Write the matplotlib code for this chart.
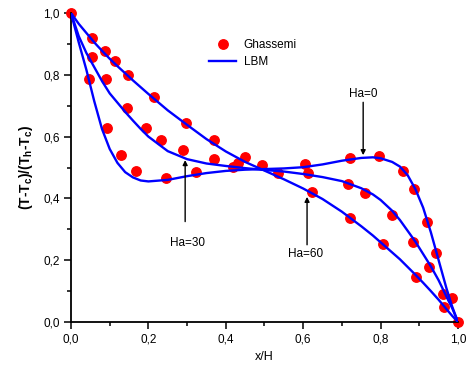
import matplotlib.pyplot as plt
from matplotlib.ticker import MultipleLocator, FuncFormatter

plt.rcParams['font.family'] = ['Liberation Sans', 'DejaVu Sans']

# LBM temperature profiles
x_lbm = [0, 0.02, 0.04, 0.06, 0.08, 0.1, 0.12, 0.14, 0.16, 0.18, 0.2, 0.25, 0.3, 0.35, 0.4,
         0.45, 0.5, 0.55, 0.6, 0.65, 0.7, 0.75, 0.78, 0.8, 0.83, 0.85, 0.87, 0.89, 0.91,
         0.93, 0.95, 0.97, 0.985, 1.0]
ha0_lbm = [1.0, 0.905, 0.815, 0.715, 0.625, 0.56, 0.515, 0.485, 0.468, 0.458, 0.455, 0.46,
           0.472, 0.482, 0.489, 0.493, 0.495, 0.497, 0.501, 0.51, 0.522, 0.531, 0.533, 0.530,
           0.518, 0.503, 0.475, 0.43, 0.37, 0.29, 0.20, 0.11, 0.05, 0.0]
ha30_lbm = [1.0, 0.925, 0.87, 0.825, 0.78, 0.74, 0.71, 0.68, 0.652, 0.625, 0.60, 0.553,
            0.527, 0.513, 0.505, 0.498, 0.492, 0.487, 0.479, 0.469, 0.456, 0.433, 0.413,
            0.395, 0.36, 0.33, 0.295, 0.26, 0.22, 0.18, 0.135, 0.083, 0.045, 0.0]
ha60_lbm = [1.0, 0.965, 0.935, 0.905, 0.878, 0.852, 0.828, 0.805, 0.782, 0.76, 0.738, 0.685,
            0.638, 0.592, 0.552, 0.518, 0.49, 0.462, 0.432, 0.398, 0.357, 0.31, 0.28, 0.258,
            0.225, 0.203, 0.178, 0.153, 0.127, 0.10, 0.072, 0.042, 0.02, 0.0]

# Ghassemi reference points
ha0_x = [0.047, 0.092, 0.128, 0.167, 0.245, 0.322, 0.419, 0.605, 0.721, 0.797, 0.859, 0.886,
         0.919, 0.943, 0.985]
ha0_y = [0.785, 0.627, 0.540, 0.489, 0.465, 0.485, 0.501, 0.510, 0.530, 0.537, 0.490, 0.429,
         0.325, 0.224, 0.077]
ha30_x = [0.055, 0.090, 0.144, 0.194, 0.233, 0.289, 0.370, 0.431, 0.536, 0.613, 0.717, 0.760,
          0.829, 0.883, 0.926, 0.962]
ha30_y = [0.859, 0.785, 0.692, 0.627, 0.589, 0.557, 0.526, 0.513, 0.481, 0.483, 0.447, 0.416,
          0.346, 0.260, 0.177, 0.091]
ha60_x = [0.0, 0.055, 0.088, 0.115, 0.148, 0.215, 0.296, 0.370, 0.450, 0.493, 0.622, 0.721,
          0.805, 0.891, 0.964, 1.0]
ha60_y = [1.0, 0.918, 0.878, 0.844, 0.798, 0.729, 0.645, 0.589, 0.535, 0.507, 0.422, 0.336,
          0.252, 0.145, 0.048, 0.0]

fig = plt.figure(figsize=(4.68, 3.78), dpi=100)
ax = fig.add_axes([0.1517, 0.1481, 0.8269, 0.8175])

dot = dict(ls='none', marker='o', ms=6.8, color='#ff0000', clip_on=False, zorder=2)
ax.plot(ha0_x, ha0_y, label='Ghassemi', **dot)
ax.plot(ha30_x, ha30_y, **dot)
ax.plot(ha60_x, ha60_y, **dot)

line = dict(color='#0000ff', lw=1.7, zorder=3)
ax.plot(x_lbm, ha0_lbm, label='LBM', **line)
ax.plot(x_lbm, ha30_lbm, **line)
ax.plot(x_lbm, ha60_lbm, **line)

arrow = dict(arrowstyle='-|>', color='k', lw=1.0, mutation_scale=7, shrinkA=0, shrinkB=0)
ax.annotate('Ha=0', xy=(0.755, 0.54), xytext=(0.755, 0.72), ha='center', va='bottom',
            fontsize=8.5, arrowprops=arrow)
ax.annotate('', xy=(0.295, 0.524), xytext=(0.295, 0.325), arrowprops=arrow)
ax.text(0.30, 0.256, 'Ha=30', ha='center', va='center', fontsize=8.5)
ax.annotate('', xy=(0.61, 0.405), xytext=(0.61, 0.25), arrowprops=arrow)
ax.text(0.605, 0.22, 'Ha=60', ha='center', va='center', fontsize=8.5)

ax.set_xlim(0, 1)
ax.set_ylim(0, 1)
ax.xaxis.set_major_locator(MultipleLocator(0.2))
ax.xaxis.set_minor_locator(MultipleLocator(0.1))
ax.yaxis.set_major_locator(MultipleLocator(0.2))
ax.yaxis.set_minor_locator(MultipleLocator(0.1))
comma = FuncFormatter(lambda v, p: f'{v:.1f}'.replace('.', ','))
ax.xaxis.set_major_formatter(comma)
ax.yaxis.set_major_formatter(comma)
ax.tick_params(which='major', direction='out', length=5, width=1.1, labelsize=8.5, pad=3)
ax.tick_params(which='minor', direction='out', length=3, width=1.1)

for s in ['top', 'right']:
    ax.spines[s].set_visible(False)
for s in ['left', 'bottom']:
    ax.spines[s].set_linewidth(1.3)

ax.set_xlabel('x/H', fontsize=9)
ax.set_ylabel(r'(T-T$_\mathregular{c}$)/(T$_\mathregular{h}$-T$_\mathregular{c}$)',
              fontsize=10, fontweight='bold', labelpad=6)

ax.legend(loc='upper left', bbox_to_anchor=(0.33, 0.95), frameon=False, fontsize=8.5,
          handlelength=2.3, labelspacing=0.4, handletextpad=0.6)

fig.savefig('out.png', dpi=100)
